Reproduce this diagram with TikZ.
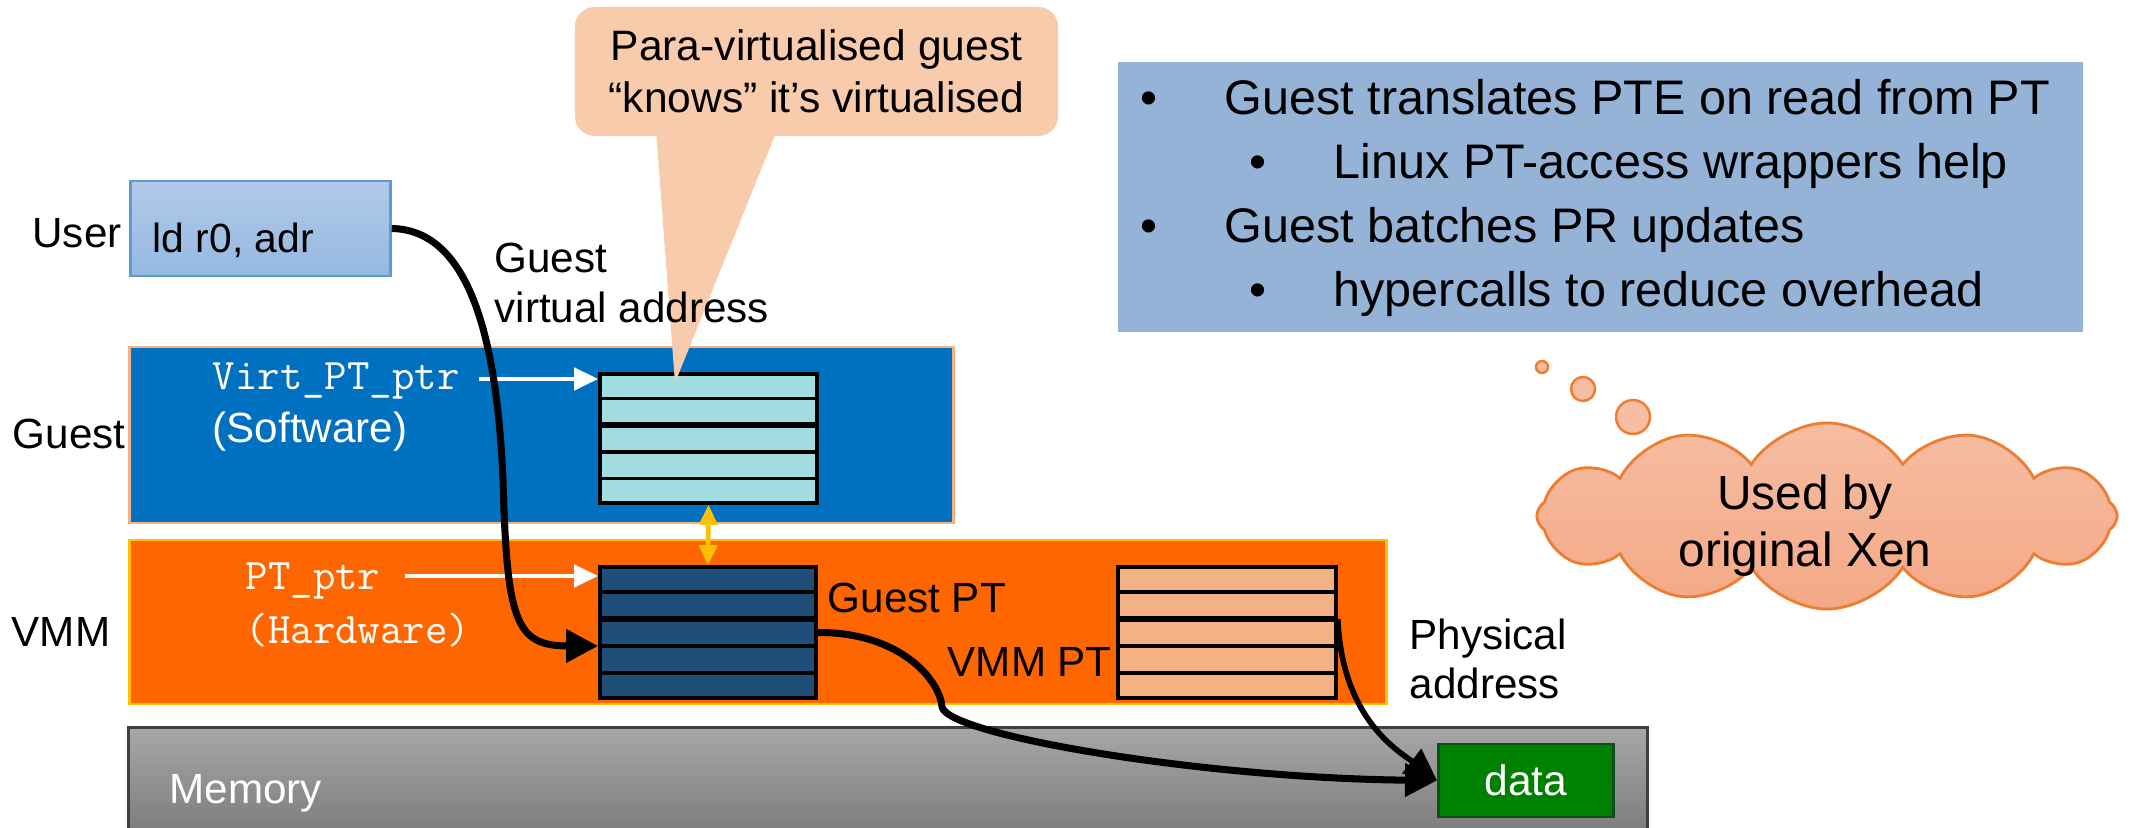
\documentclass[tikz,border=0pt]{standalone}
\usepackage{fontspec}
\setmainfont{Liberation Sans}
\usetikzlibrary{shapes.symbols,arrows.meta,calc}
\definecolor{cGuest}{HTML}{0070C0}
\definecolor{cGuestBorder}{HTML}{F4B183}
\definecolor{cVmm}{HTML}{FF6600}
\definecolor{cVmmBorder}{HTML}{FFC000}
\definecolor{cLightPT}{HTML}{A2DCE0}
\definecolor{cDarkPT}{HTML}{1F4E79}
\definecolor{cVmmPT}{HTML}{F4B183}
\definecolor{cCallout}{HTML}{F8CBAD}
\definecolor{cNote}{HTML}{95B3D7}
\definecolor{cUserTop}{HTML}{B1CAE8}
\definecolor{cUserBot}{HTML}{95B8E2}
\definecolor{cUserBorder}{HTML}{5B9BD5}
\definecolor{cMemTop}{HTML}{A6A6A6}
\definecolor{cMemBot}{HTML}{7F7F7F}
\definecolor{cMemBorder}{HTML}{3F3F3F}
\definecolor{cData}{HTML}{008000}
\definecolor{cDataBorder}{HTML}{0B4F1E}
\definecolor{cCloudTop}{HTML}{F6BDA2}
\definecolor{cCloudBot}{HTML}{F4A886}
\definecolor{cCloudBorder}{HTML}{ED7D31}
\definecolor{cDouble}{HTML}{FFC000}
\begin{document}
\begin{tikzpicture}[x=0.01cm,y=-0.01cm,
  lbl/.style={font=\fontsize{12}{14.4}\selectfont, inner sep=0pt},
  mono/.style={font=\ttfamily\fontsize{12.4}{14.8}\selectfont, inner sep=0pt, text=white, anchor=base west},
  band/.style={inner sep=0pt, line width=0.8pt},
  ptable/.style={draw=black, line width=1pt, inner sep=0pt},
  rowline/.style={line width=1pt},
  rowthick/.style={line width=1.8pt},
  bigarrow/.style={line width=2pt, -{Triangle[length=0.32cm,width=0.32cm]}},
  midarrow/.style={line width=1.6pt, -{Triangle[length=0.32cm,width=0.3cm]}},
  whitearrow/.style={white, line width=1.4pt, -{Triangle[length=0.24cm,width=0.22cm]}},
  bullettext/.style={font=\fontsize{13.8}{16}\selectfont, inner sep=0pt, anchor=base west},
  bulletdot/.style={font=\fontsize{13.8}{16}\selectfont, inner sep=0pt, anchor=base},
  bubble/.style={circle, draw=cCloudBorder, fill=cCloudTop, line width=0.7pt, inner sep=0pt},
]
\useasboundingbox (0,0) rectangle (2132,828);

% ---- bands ----
\node[band, top color=cMemTop, bottom color=cMemBot, minimum width=15.16cm, minimum height=0.99cm] (mem) at (888,778.5) {};
\draw[cMemBorder, line width=0.8pt] (mem.south west) |- (mem.north east) -- (mem.south east);
\node[band, fill=cGuest, draw=cGuestBorder, minimum width=8.23cm, minimum height=1.76cm] (guestband) at (541.5,435) {};
\node[band, fill=cVmm, draw=cVmmBorder, minimum width=12.56cm, minimum height=1.64cm] (vmmband) at (758,622) {};

% ---- user box ----
\node[inner sep=0pt, draw=cUserBorder, line width=0.7pt, top color=cUserTop, bottom color=cUserBot, minimum width=2.6cm, minimum height=0.95cm] (user) at (260.5,228.5) {};
\node[font=\fontsize{11.6}{14}\selectfont, inner sep=0pt, anchor=base west] (ld) at (152,253) {ld r0, adr};

% ---- page tables ----
\node[ptable, fill=cLightPT, minimum width=2.17cm, minimum height=1.29cm] (lpt) at (708.5,438.5) {};
\node[ptable, fill=cDarkPT, minimum width=2.16cm, minimum height=1.31cm] (gpt) at (708,632.5) {};
\node[ptable, fill=cVmmPT, minimum width=2.18cm, minimum height=1.31cm] (vpt) at (1227,632.5) {};
\foreach \t in {lpt,gpt,vpt}{
  \foreach \k in {1,3,4}{
    \draw[rowline] ($(\t.north west)!\k/5!(\t.south west)$) -- ($(\t.north east)!\k/5!(\t.south east)$);
  }
  \draw[rowthick] ($(\t.north west)!2/5!(\t.south west)$) -- ($(\t.north east)!2/5!(\t.south east)$);
}

% ---- callout ----
\coordinate (calltip) at (675,383);
\fill[cCallout] (656,130) -- (calltip) -- (777,130) -- cycle;
\node[fill=cCallout, rounded corners=0.2cm, minimum width=4.83cm, minimum height=1.29cm, align=center, font=\fontsize{12.1}{14.8}\selectfont, inner sep=0pt] (callout) at (816.5,71.5) {Para-virtualised guest\\“knows” it’s virtualised};

% ---- labels ----
\node[lbl, anchor=base] (userlbl) at (77,248) {User};
\node[lbl, anchor=base] (guestlbl) at (69,449) {Guest};
\node[lbl, anchor=base] (vmmlbl) at (61,647) {VMM};
\node[lbl, anchor=base west] (gva1) at (494,273) {Guest};
\node[lbl, anchor=base west] (gva2) at (494,323) {virtual address};
\node[mono] (vptr) at (212,390) {Virt\_PT\_ptr};
\node[lbl, anchor=base west, text=white] (sw) at (212,443) {(Software)};
\node[mono] (ptptr) at (245,590) {PT\_ptr};
\node[mono] (hw) at (245,644) {(Hardware)};
\node[lbl, anchor=base west] (gptlbl) at (827,613) {Guest PT};
\node[lbl, anchor=base west] (vptlbl) at (947,677) {VMM PT};
\node[lbl, anchor=base west] (phys1) at (1409,650) {Physical};
\node[lbl, anchor=base west] (phys2) at (1409,699) {address};
\node[lbl, anchor=base west, text=white] (memlbl) at (169,804) {Memory};

% ---- data ----
\node[inner sep=0pt, fill=cData, draw=cDataBorder, line width=0.8pt, minimum width=1.75cm, minimum height=0.73cm, text=white, font=\fontsize{12.1}{14}\selectfont] (data) at (1526,780.5) {data};

% ---- white pointer arrows ----
\coordinate (vptail) at (479,379);
\draw[whitearrow] (vptail) -- (vptail -| lpt.west);
\coordinate (ptail) at (405,576);
\draw[whitearrow] (ptail) -- (ptail -| gpt.west);

% ---- yellow double arrow ----
\draw[cDouble, line width=1.3pt, {Triangle[length=0.2cm,width=0.18cm]}-{Triangle[length=0.2cm,width=0.18cm]}] (lpt.south) -- (gpt.north);

% ---- black translation arrows ----
\coordinate (gptin) at ($(gpt.north west)!0.6!(gpt.south west)$);
\draw[bigarrow] (user.east) .. controls (470,230) and (497,340) .. (503,480)
  .. controls (507,620) and (515,646) .. (gptin);
\draw[bigarrow] (gpt.east) .. controls (900,632) and (940,680) .. (942,707)
  .. controls (948,735) and (1200,778) .. (data.west);
\coordinate (vptout) at ($(vpt.north east)!0.4!(vpt.south east)$);
\draw[midarrow] (vptout) .. controls (1342,720) and (1400,752) .. (data.west);

% ---- note box ----
\node[fill=cNote, inner sep=0pt, minimum width=9.65cm, minimum height=2.70cm] (note) at (1600.5,197) {};
\node[bulletdot] (b1) at (1149,115) {•};
\node[bullettext] (t1) at (1224,115) {Guest translates PTE on read from PT};
\node[bulletdot] (b2) at (1258,179) {•};
\node[bullettext] (t2) at (1333,179) {Linux PT-access wrappers help};
\node[bulletdot] (b3) at (1149,243) {•};
\node[bullettext] (t3) at (1224,243) {Guest batches PR updates};
\node[bulletdot] (b4) at (1258,307) {•};
\node[bullettext] (t4) at (1333,307) {hypercalls to reduce overhead};

% ---- thought cloud ----
\node[bubble, minimum size=0.12cm] (bub1) at (1542,367) {};
\node[bubble, minimum size=0.24cm] (bub2) at (1583,389) {};
\node[bubble, minimum size=0.34cm] (bub3) at (1633,417) {};
\node[cloud, cloud puffs=12, cloud puff arc=115, aspect=3.1, minimum width=5.8cm, minimum height=1.86cm, draw=cCloudBorder, top color=cCloudTop, bottom color=cCloudBot, line width=0.8pt, inner sep=0pt] (cloud) at (1827,516) {};
\node[align=center, font=\fontsize{13.6}{16.2}\selectfont, inner sep=0pt] (cloudtxt) at (1805,526) {Used by\\original Xen};
\end{tikzpicture}
\end{document}
